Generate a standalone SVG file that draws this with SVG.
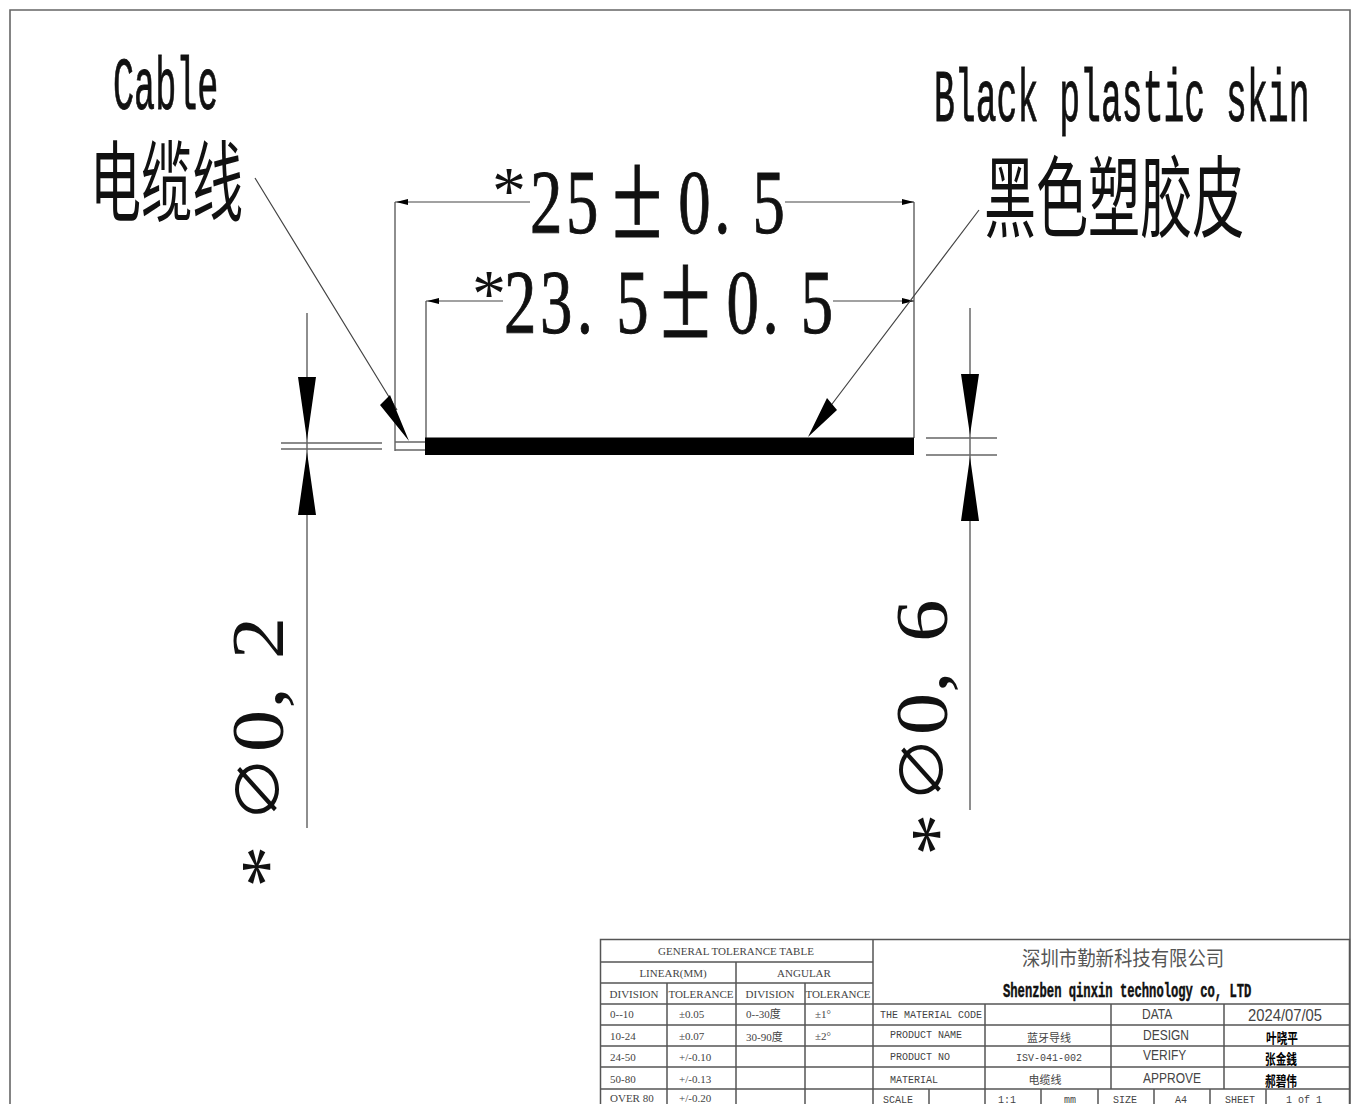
<svg xmlns="http://www.w3.org/2000/svg" width="1356" height="1104" viewBox="0 0 1356 1104">
<style>
text{fill:#111}
.mono{font-family:"Liberation Mono","Noto Sans CJK SC",monospace}
.serif{font-family:"Liberation Serif","Noto Sans CJK SC",serif}
.cjk{font-family:"Noto Sans CJK SC",sans-serif}
.sans{font-family:"Liberation Sans","Noto Sans CJK SC",sans-serif}
.h{stroke:#111;stroke-width:.9}
.d{stroke:#444;stroke-width:1.2;fill:none}
.g{stroke:#666;stroke-width:1.6;fill:none}
.t{stroke:#555;stroke-width:1.5;fill:none}
.a{fill:#000;stroke:none}
.s{font-size:11px;fill:#444;font-family:"Liberation Serif","Noto Sans CJK SC",serif}
.c{font-size:10px;fill:#444;font-family:"Liberation Mono","Noto Sans CJK SC",monospace}
.m{font-size:15px;fill:#444;font-family:"Liberation Sans",sans-serif}
.b{font-size:14px;font-weight:bold;fill:#000;font-family:"Noto Sans CJK SC",sans-serif}
</style>
<rect width="1356" height="1104" fill="#fff"/>
<path d="M10 1104V10H1350V1104" class="g"/>
<g id="labels">
<text class="mono h" transform="translate(113 109) scale(.475 1)" font-size="74">Cable</text>
<text class="cjk" transform="translate(90 214) scale(.58 1)" font-size="88">电缆线</text>
<text class="mono h" transform="translate(934 121) scale(.47 1)" font-size="74">Black plastic skin</text>
<text class="cjk" transform="translate(984 230) scale(.585 1)" font-size="89">黑色塑胶皮</text>
</g>
<g id="connectors">
<path class="d" d="M395 202H530M785 202H914M395 202V451M914 202V438M426 301H503M833 301H914M426 301V438"/>
<path class="a" d="M396 202l12-3v6zM914 202l-12-3v6zM427 301l12-3v6zM914 301l-12-3v6z"/>
<path class="d" d="M255 178L397 410M979 210L826 412M307 313V828M970 308V810"/>
<path class="a" d="M409 441L380 405 390 395zM808 437L827 398 837 410zM307 440L298 377H316zM307 452L298 515H316zM970 435L961 374H979zM970 457L961 521H979z"/>
<path class="g" d="M281 443H382M281 449H382M926 438H997M926 455H997"/>
</g>
<g id="cable">
<path class="g" d="M395 442H426M395 450H426"/>
<rect x="425" y="437.500" width="489" height="17.500" fill="#000"/>
</g>
<g id="dimensions">
<text class="serif" x="492" y="213" font-size="68">*</text>
<text class="serif h" transform="translate(0 233) scale(.72 1)" font-size="90"><tspan x="736 786">25</tspan><tspan x="850" dy="4" font-size="128">±</tspan><tspan dy="-4" x="942 992 1045">0.5</tspan></text>
<text class="serif" x="472" y="316" font-size="68">*</text>
<text class="serif h" transform="translate(0 333) scale(.72 1)" font-size="90"><tspan x="700 750 801 856">23.5</tspan><tspan x="917" dy="4" font-size="128">±</tspan><tspan dy="-4" x="1009 1059 1112">0.5</tspan></text>
<text class="serif" transform="translate(283 888) rotate(-90) scale(1.15 1)" font-size="74"><tspan x="0" dy="9">*</tspan><tspan x="57" dy="-13" font-size="58">∅</tspan><tspan dy="4" x="118 156 199">0,2</tspan></text>
<text class="serif" transform="translate(947 856) rotate(-90) scale(1.15 1)" font-size="74"><tspan x="0" dy="15">*</tspan><tspan x="46" dy="-19" font-size="58">∅</tspan><tspan dy="4" x="105 142 186">0,6</tspan></text>
</g>
<g id="title-block">
<rect x="600.500" y="939.500" width="749" height="170" fill="#fff" class="t"/>
<path class="t" d="M873 939V1104M600 962H873M600 983H873M600 1004H1350M600 1025H1350M600 1046H1350M600 1067H1350M600 1089H1350M736 962V1104M667 983V1104M805 983V1104M985 1004V1089M1111 1004V1089M1224 1004V1089M929 1089V1104M985 1089V1104M1041 1089V1104M1098 1089V1104M1154 1089V1104M1210 1089V1104M1266 1089V1104"/>
<text class="s" x="736" y="955" text-anchor="middle">GENERAL TOLERANCE TABLE</text>
<text class="s" x="673" y="977" text-anchor="middle">LINEAR(MM)</text>
<text class="s" x="804" y="977" text-anchor="middle">ANGULAR</text>
<text class="s" x="634" y="998" text-anchor="middle">DIVISION</text>
<text class="s" x="701" y="998" text-anchor="middle">TOLERANCE</text>
<text class="s" x="770" y="998" text-anchor="middle">DIVISION</text>
<text class="s" x="838" y="998" text-anchor="middle">TOLERANCE</text>
<text class="s" x="610" y="1018">0--10</text><text class="s" x="679" y="1018">±0.05</text><text class="s" x="746" y="1018">0--30度</text><text class="s" x="815" y="1018">±1°</text>
<text class="s" x="610" y="1040">10-24</text><text class="s" x="679" y="1040">±0.07</text><text class="s" x="746" y="1041">30-90度</text><text class="s" x="815" y="1040">±2°</text>
<text class="s" x="610" y="1061">24-50</text><text class="s" x="679" y="1061">+/-0.10</text>
<text class="s" x="610" y="1083">50-80</text><text class="s" x="679" y="1083">+/-0.13</text>
<text class="s" x="610" y="1102">OVER 80</text><text class="s" x="679" y="1102">+/-0.20</text>
<text class="cjk" transform="translate(1022 966) scale(.92 1)" font-size="20" style="fill:#555">深圳市勤新科技有限公司</text>
<text class="mono" transform="translate(1003 997) scale(.58 1)" font-size="21" font-weight="bold" stroke="#111" stroke-width=".5">Shenzben qinxin technology co, LTD</text>
<text class="c" x="880" y="1018">THE MATERIAL CODE</text>
<text class="c" x="890" y="1038">PRODUCT NAME</text>
<text class="c" x="890" y="1060">PRODUCT NO</text>
<text class="c" x="890" y="1083">MATERIAL</text>
<text class="c" x="883" y="1103">SCALE</text>
<text class="s" x="1049" y="1042" text-anchor="middle">蓝牙导线</text>
<text class="c" x="1049" y="1061" text-anchor="middle">ISV-041-002</text>
<text class="s" x="1045" y="1084" text-anchor="middle">电缆线</text>
<text class="m" transform="translate(1142 1019) scale(.8 1)">DATA</text>
<text class="m" transform="translate(1143 1040) scale(.8 1)">DESIGN</text>
<text class="m" transform="translate(1143 1060) scale(.8 1)">VERIFY</text>
<text class="m" transform="translate(1143 1083) scale(.8 1)">APPROVE</text>
<text class="sans" transform="translate(1248 1021) scale(.87 1)" font-size="17" style="fill:#444">2024/07/05</text>
<text class="b" transform="translate(1266 1043) scale(.76 1)">叶晓平</text>
<text class="b" transform="translate(1265 1064) scale(.76 1)">张金銭</text>
<text class="b" transform="translate(1265 1086) scale(.76 1)">郝碧伟</text>
<text class="c" x="998" y="1103">1:1</text>
<text class="c" x="1064" y="1103">mm</text>
<text class="c" x="1113" y="1103">SIZE</text>
<text class="c" x="1175" y="1103">A4</text>
<text class="c" x="1225" y="1103">SHEET</text>
<text class="c" x="1286" y="1103">1 of 1</text>
</g>
</svg>
